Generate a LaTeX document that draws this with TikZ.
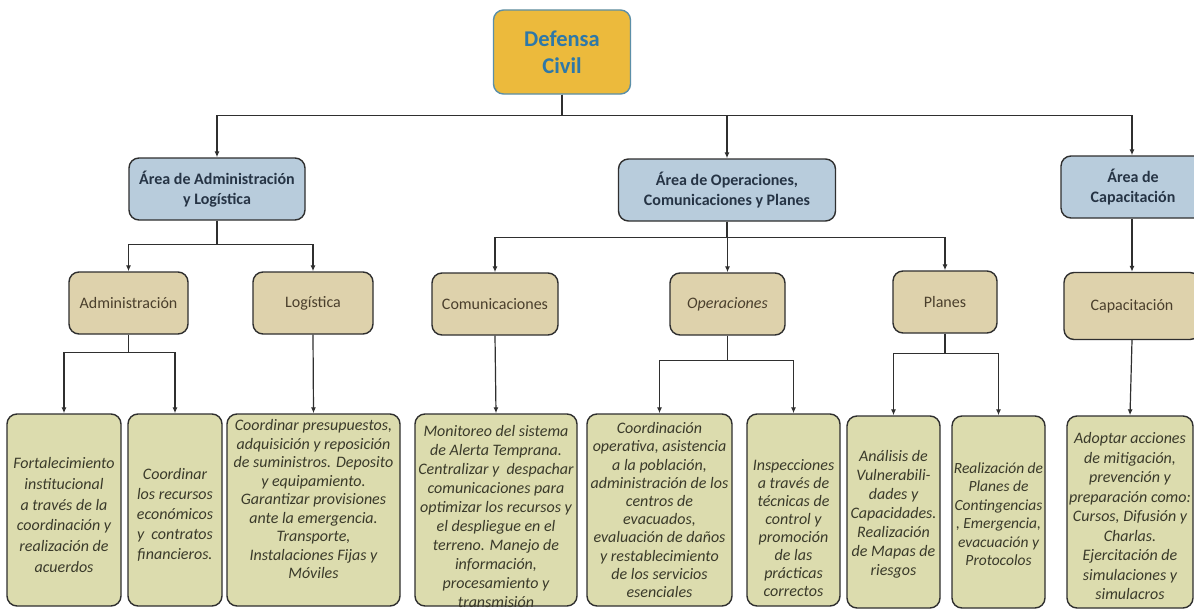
\documentclass[tikz,border=0pt]{standalone}
\usepackage{fontspec}
\setmainfont{Carlito}
\usetikzlibrary{arrows.meta}
\definecolor{topfill}{HTML}{ECBA3C}
\definecolor{topborder}{HTML}{5B8FA8}
\definecolor{toptext}{HTML}{2E78A8}
\definecolor{areafill}{HTML}{B8CCDC}
\definecolor{areatext}{HTML}{263445}
\definecolor{secfill}{HTML}{DED2AC}
\definecolor{sectext}{HTML}{4A3F2C}
\definecolor{botfill}{HTML}{DCDCAE}
\definecolor{bottext}{HTML}{3A3A2A}
\definecolor{linec}{HTML}{2F2F2F}
\begin{document}
\begin{tikzpicture}[x=1pt,y=-1pt,
  base/.style={rounded corners=10pt, line width=1.4pt, draw=linec, inner sep=0pt, align=center},
  topbox/.style={base, fill=topfill, draw=topborder, text=toptext, font=\fontsize{22.5}{27}\selectfont\bfseries},
  areabox/.style={base, fill=areafill, text=areatext, font=\fontsize{16}{20}\selectfont\bfseries, minimum height=62pt},
  secbox/.style={base, fill=secfill, text=sectext, font=\fontsize{16}{19}\selectfont, minimum height=62pt},
  botbox/.style={base, fill=botfill, minimum height=192pt},
  bt/.style={text=bottext, align=center, inner sep=0pt},
  conn/.style={line width=1.2pt, draw=linec},
  arr/.style={conn, -{Latex[length=6pt,width=5pt]}}
]
\clip (0,0) rectangle (1194,610);
\fill[white] (0,0) rectangle (1194,610);

% level 0
\node[topbox, minimum width=137pt, minimum height=84pt] (top) at (562,52) {Defensa\\Civil};

% level 1
\node[areabox, minimum width=176pt] (aadm) at (217,189) {Área de Administración\\y Logística};
\node[areabox, minimum width=217pt] (aops) at (727,190) {Área de Operaciones,\\Comunicaciones y Planes};
\node[areabox, minimum width=144pt] (acap) at (1133,187) {Área de\\Capacitación};

% level 2
\node[secbox, minimum width=119pt] (sadm) at (128.5,303) {Administración};
\node[secbox, minimum width=120pt] (slog) at (313,303) {Logística};
\node[secbox, minimum width=126pt] (scom) at (495,304) {Comunicaciones};
\node[secbox, minimum width=115pt] (sope) at (727.5,304) {\itshape Operaciones};
\node[secbox, minimum width=104pt] (spla) at (945,302) {Planes};
\node[secbox, minimum width=136pt, minimum height=67pt] (scap) at (1132,306) {Capacitación};

% level 3 boxes
\node[botbox, minimum width=114pt] (b1) at (64,510) {};
\node[botbox, minimum width=94pt] (b2) at (175,510) {};
\node[botbox, minimum width=173pt] (b3) at (313.5,510) {};
\node[botbox, minimum width=162pt] (b4) at (496,510) {};
\node[botbox, minimum width=145pt] (b5) at (659.5,510) {};
\node[botbox, minimum width=93pt] (b6) at (793.5,510) {};
\node[botbox, minimum width=93pt] (b7) at (893.5,512) {};
\node[botbox, minimum width=93pt] (b8) at (998.5,512) {};
\node[botbox, minimum width=126pt] (b9) at (1130,512) {};

% level 3 texts
\node[bt, font=\fontsize{16}{20.8}\selectfont\itshape] (t1) at (64,515) {Fortalecimiento\\institucional\\a través de la\\coordinación y\\realización de\\acuerdos};
\node[bt, font=\fontsize{16}{20}\selectfont\itshape] (t2) at (175,515) {Coordinar\\los recursos\\económicos\\y \ contratos\\financieros.};
\node[bt, font=\fontsize{16}{18.5}\selectfont\itshape] (t3) at (313.5,499) {Coordinar presupuestos,\\adquisición y reposición\\de suministros. Deposito\\y equipamiento.\\Garantizar provisiones\\ante la emergencia.\\Transporte,\\Instalaciones Fijas y\\Móviles};
\node[bt, font=\fontsize{16}{19}\selectfont\itshape] (t4) at (496,516) {Monitoreo del sistema\\de Alerta Temprana.\\Centralizar y \ despachar\\comunicaciones para\\optimizar los recursos y\\el despliegue en el\\terreno. Manejo de\\información,\\procesamiento y\\transmisión};
\node[bt, font=\fontsize{16}{18.2}\selectfont\itshape] (t5) at (659.5,510) {Coordinación\\operativa, asistencia\\a la población,\\administración de los\\centros de\\evacuados,\\evaluación de daños\\y restablecimiento\\de los servicios\\esenciales};
\node[bt, font=\fontsize{16}{18}\selectfont\itshape] (t6) at (793.5,528) {Inspecciones\\a través de\\técnicas de\\control y\\promoción\\de las\\prácticas\\correctos};
\node[bt, font=\fontsize{16}{19}\selectfont\itshape] (t7) at (893.5,514) {Análisis de\\Vulnerabili-\\dades y\\Capacidades.\\Realización\\de Mapas de\\riesgos};
\node[bt, font=\fontsize{15.5}{18.5}\selectfont\itshape] (t8) at (998.5,514) {Realización de\\Planes de\\Contingencias\\, Emergencia,\\evacuación y\\Protocolos};
\node[bt, font=\fontsize{16}{19.5}\selectfont\itshape] (t9) at (1130,516) {Adoptar acciones\\de mitigación,\\prevención y\\preparación como:\\Cursos, Difusión y\\Charlas.\\Ejercitación de\\simulaciones y\\simulacros};

% connectors level 0 -> 1
\draw[arr] (top.south) -- ++(0,21) -| (aadm.north);
\draw[arr] (top.south) -- ++(0,21) -| (aops.north);
\draw[arr] (top.south) -- ++(0,21) -| ([xshift=-1pt]acap.north);

% level 1 -> 2
\draw[arr] (aadm.south) -- ++(0,24) -| (sadm.north);
\draw[arr] (aadm.south) -- ++(0,24) -| (slog.north);
\draw[arr] (aops.south) -- ++(0,16) -| (scom.north);
\draw[arr] (aops.south) -- ++(0,16) -| (sope.north);
\draw[arr] (aops.south) -- ++(0,16) -| (spla.north);
\draw[arr] ([xshift=-1pt]acap.south) -- (scap.north);

% level 2 -> 3
\draw[arr] (sadm.south) -- ++(0,18) -| (b1.north);
\draw[arr] (sadm.south) -- ++(0,18) -| (b2.north);
\draw[arr] (slog.south) -- (b3.north);
\draw[arr] (scom.south) -- (b4.north);
\draw[arr] (sope.south) -- ++(0,25) -| (b5.north);
\draw[arr] (sope.south) -- ++(0,25) -| (b6.north);
\draw[arr] (spla.south) -- ++(0,20) -| (b7.north);
\draw[arr] (spla.south) -- ++(0,20) -| (b8.north);
\draw[arr] (scap.south) -- (b9.north);
\end{tikzpicture}
\end{document}
